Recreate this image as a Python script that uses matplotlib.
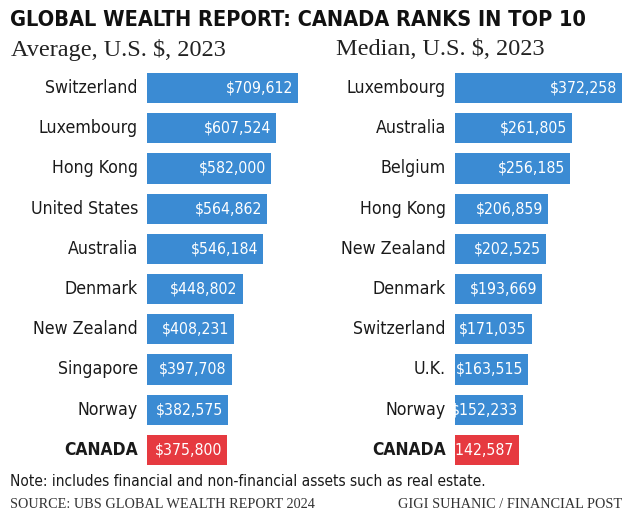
import matplotlib
matplotlib.use("Agg")
import matplotlib.pyplot as plt
import matplotlib.transforms as mtrans
from matplotlib import font_manager
from matplotlib.font_manager import FontProperties

avg_countries = ["Switzerland", "Luxembourg", "Hong Kong", "United States", "Australia",
                 "Denmark", "New Zealand", "Singapore", "Norway", "CANADA"]
avg_values = [709612, 607524, 582000, 564862, 546184, 448802, 408231, 397708, 382575, 375800]

med_countries = ["Luxembourg", "Australia", "Belgium", "Hong Kong", "New Zealand",
                 "Denmark", "Switzerland", "U.K.", "Norway", "CANADA"]
med_values = [372258, 261805, 256185, 206859, 202525, 193669, 171035, 163515, 152233, 142587]

# look for a condensed sans face, otherwise fall back to a plain one
fonts = font_manager.fontManager.ttflist
def find_cond(bold):
    for f in fonts:
        cond = ("Narrow" in f.name or "Condensed" in f.name or "ondensed" in f.fname
                or f.stretch in ("condensed", "semi-condensed", "extra-condensed"))
        isbold = (f.weight in ("bold", 700) or (isinstance(f.weight, int) and f.weight >= 600)
                  or "Bold" in f.fname)
        if cond and isbold == bold and f.style == "normal" and "Sans" in f.name + f.fname \
                and "Mono" not in f.fname and "Oblique" not in f.fname and "Italic" not in f.fname:
            return f.fname
    return None

reg_file = find_cond(False)
bold_file = find_cond(True)
have_cond = reg_file is not None
if have_cond:
    f_reg = lambda s: FontProperties(fname=reg_file, size=s)
    f_bold = lambda s: FontProperties(fname=bold_file or reg_file, size=s)
    k = 1.0
else:
    f_reg = lambda s: FontProperties(family="Roboto", size=s)
    f_bold = lambda s: FontProperties(family="Roboto", weight="bold", size=s)
    k = 0.87
serif = "Liberation Serif"

BLUE = "#3b8bd3"
RED = "#e63a40"

fig = plt.figure(figsize=(6.4, 5.17), dpi=100)
W, H = 640, 517

def px_axes(x0, y0, w, h):
    return fig.add_axes([x0 / W, 1 - (y0 + h) / H, w / W, h / H])

def panel(x0, width, countries, values, xmax):
    ax = px_axes(x0, 68, width, 402)
    ys = list(range(len(countries)))
    colors = [RED if c == "CANADA" else BLUE for c in countries]
    ax.barh(ys, values, height=0.75, color=colors)
    ax.set_xlim(0, xmax)
    ax.set_ylim(len(countries) - 0.5, -0.5)
    ax.axis("off")
    tr = mtrans.blended_transform_factory(ax.transAxes, ax.transData)
    for y, c, v in zip(ys, countries, values):
        fp = f_bold(12.5 * k) if c == "CANADA" else f_reg(12.7 * k)
        ax.text(-9 / width, y, c, transform=tr, ha="right", va="center",
                fontproperties=fp, color="#1a1a1a")
        ax.annotate("${:,}".format(v), (v, y), xytext=(-3.5, 0), textcoords="offset points",
                    ha="right", va="center", color="white", fontproperties=f_reg(11.3 * k))
    return ax

panel(147, 160, avg_countries, avg_values, 709612 * 160 / 151)
panel(455, 180, med_countries, med_values, 372258 * 180 / 167)

fig.text(10 / W, 1 - 20 / H, "GLOBAL WEALTH REPORT: CANADA RANKS IN TOP 10",
         fontproperties=f_bold(15.6 * k if have_cond else 14), va="center", color="#111111")
fig.text(11 / W, 1 - 50 / H, "Average, U.S. $, 2023", fontsize=17.5, family=serif,
         va="center", color="#222222")
fig.text(336 / W, 1 - 50 / H, "Median, U.S. $, 2023", fontsize=17.5, family=serif,
         va="center", color="#222222")
fig.text(10 / W, 1 - 482 / H, "Note: includes financial and non-financial assets such as real estate.",
         fontproperties=f_reg(11.1 * k), va="center", color="#1a1a1a")
fig.text(10 / W, 1 - 504 / H, "SOURCE: UBS GLOBAL WEALTH REPORT 2024", fontsize=10.3,
         family=serif, va="center", color="#333333")
fig.text(622 / W, 1 - 504 / H, "GIGI SUHANIC / FINANCIAL POST", fontsize=10.3,
         family=serif, va="center", ha="right", color="#333333")

fig.savefig("out.png", dpi=100)
